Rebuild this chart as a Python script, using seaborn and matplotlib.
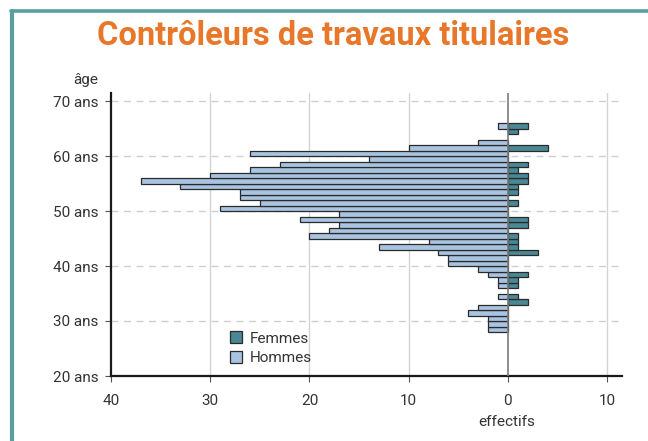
import matplotlib
matplotlib.use("Agg")
import matplotlib.pyplot as plt
import seaborn as sns
import pandas as pd
import numpy as np
from matplotlib.patches import Patch
from matplotlib.lines import Line2D

ages = [65, 64, 63, 62, 61, 60, 59, 58, 57, 56, 55, 54, 53, 52, 51, 50, 49, 48, 47,
        46, 45, 44, 43, 42, 41, 40, 39, 38, 37, 36, 35, 34, 33, 32, 31, 30, 29, 28]
hommes = [1, 0, 0, 3, 10, 26, 14, 23, 26, 30, 37, 33, 27, 27, 25, 29, 17, 21, 17,
          18, 20, 8, 13, 7, 6, 6, 3, 2, 1, 1, 0, 1, 0, 3, 4, 2, 2, 2]
femmes = [2, 1, 0, 0, 4, 0, 0, 2, 1, 2, 2, 1, 1, 0, 1, 0, 0, 2, 2,
          0, 1, 1, 1, 3, 0, 0, 0, 2, 1, 1, 0, 1, 2, 0, 0, 0, 0, 0]
xticks = [-40, -30, -20, -10, 0, 10]
xticklabels = ["40", "30", "20", "10", "0", "10"]
yticks = [20, 30, 40, 50, 60, 70]
yticklabels = ["20 ans", "30 ans", "40 ans", "50 ans", "60 ans", "70 ans"]

C_H = "#a9c4e0"
C_F = "#4a8896"
EDGE = "#2a2a2a"
FONT = ["Roboto", "DejaVu Sans"]

sns.set_style("white")
plt.rcParams["font.family"] = FONT

df_h = pd.DataFrame({"age": np.array(ages) + 0.5, "n": -np.array(hommes)})
df_f = pd.DataFrame({"age": np.array(ages) + 0.5, "n": np.array(femmes)})
df_h = df_h[df_h["n"] != 0]
df_f = df_f[df_f["n"] != 0]

fig = plt.figure(figsize=(6.48, 4.41), dpi=100)
ax = fig.add_axes([111/648, 1 - 376/441, (622-111)/648, (376-92.75)/441])

# grid
for xv in [-30, -20, -10, 10]:
    ax.axvline(xv, color="#d4d4d4", lw=1.0, zorder=0)
for yv in [30, 40, 50, 60, 70]:
    ax.axhline(yv, color="#cfcfcf", lw=1.0, ls=(0, (5, 4)), zorder=0)

sns.barplot(data=df_h, x="n", y="age", orient="h", native_scale=True, width=1,
            color=C_H, edgecolor=EDGE, linewidth=0.9, errorbar=None, ax=ax,
            saturation=1, zorder=2)
sns.barplot(data=df_f, x="n", y="age", orient="h", native_scale=True, width=1,
            color=C_F, edgecolor=EDGE, linewidth=0.9, errorbar=None, ax=ax,
            saturation=1, zorder=2)

ax.axvline(0, color="#7a7a7a", lw=1.2, zorder=3)

ax.set_xlim(-40, 11.5)
ax.set_ylim(20, 71.5)
ax.set_xticks(xticks)
ax.set_xticklabels(xticklabels, fontsize=11, color="#333333")
ax.set_yticks(yticks)
ax.set_yticklabels(yticklabels, fontsize=11, color="#333333")
ax.tick_params(axis="x", length=4, width=0.8, color="#555555", pad=9, direction="out", bottom=True)
ax.tick_params(axis="y", length=4, width=0.8, color="#555555", pad=5, left=True)
ax.set_xlabel("")
ax.set_ylabel("")
for s in ["top", "right"]:
    ax.spines[s].set_visible(False)
ax.spines["left"].set_color("#1a1a1a")
ax.spines["left"].set_linewidth(1.6)
ax.spines["bottom"].set_color("#1a1a1a")
ax.spines["bottom"].set_linewidth(1.6)

fig.text(86/648, 1 - 80/441, "âge", ha="center", va="center", fontsize=11, color="#333333")
fig.text(507/648, 1 - 422/441, "effectifs", ha="center", va="center", fontsize=11, color="#333333")

handles = [Patch(facecolor=C_F, edgecolor=EDGE, lw=0.9, label="Femmes"),
           Patch(facecolor=C_H, edgecolor=EDGE, lw=0.9, label="Hommes")]
leg = ax.legend(handles=handles, loc="lower left", bbox_to_anchor=(0.205, -0.01),
                frameon=False, fontsize=11, handlelength=0.8, handleheight=0.8,
                handletextpad=0.5, labelspacing=0.35)
for t in leg.get_texts():
    t.set_color("#333333")

fig.text(333/648, 1 - 36/441, "Contrôleurs de travaux titulaires", ha="center", va="center",
         fontsize=23.5, fontweight="bold", color="#e8772a")

# frame
fig.add_artist(Line2D([12/648, 12/648], [0, 1 - 10.5/441], color="#5a9ea0", lw=3, transform=fig.transFigure))
fig.add_artist(Line2D([10.5/648, 1], [1 - 10.5/441, 1 - 10.5/441], color="#5a9ea0", lw=2.6, transform=fig.transFigure))

fig.savefig("out.png", dpi=100)
